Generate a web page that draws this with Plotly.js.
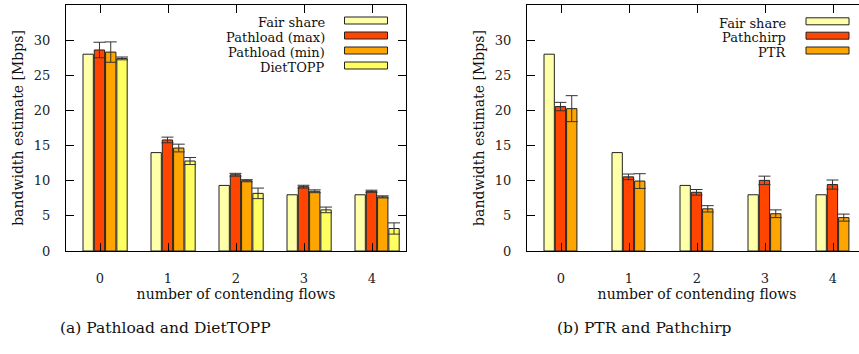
<!DOCTYPE html>
<html>
<head>
<meta charset="utf-8">
<script src="https://cdn.plot.ly/plotly-3.0.1.min.js"></script>
<style>
html,body{margin:0;padding:0;overflow:hidden;background:#fff;width:859px;height:354px;}
#chart{width:875px;height:354px;}
</style>
</head>
<body>
<div id="chart"></div>
<script>
// ---- data ----
const categories = [0, 1, 2, 3, 4];
const tickLabels = ['0', '1', '2', '3', '4'];

// (a) Pathload and DietTOPP
const seriesNamesA = ['Fair share', 'Pathload (max)', 'Pathload (min)', 'DietTOPP'];
const fairShareA = [28, 14, 9.33, 8, 8];
const pathloadMax = [28.6, 15.8, 10.85, 9.15, 8.5];
const pathloadMaxErr = [1.1, 0.4, 0.2, 0.2, 0.15];
const pathloadMin = [28.3, 14.65, 10.0, 8.5, 7.7];
const pathloadMinErr = [1.45, 0.55, 0.15, 0.2, 0.15];
const dietTopp = [27.4, 12.8, 8.2, 5.85, 3.2];
const dietToppErr = [0.2, 0.5, 0.75, 0.4, 0.8];

// (b) PTR and Pathchirp
const seriesNamesB = ['Fair share', 'Pathchirp', 'PTR'];
const fairShareB = [28, 14, 9.33, 8, 8];
const pathchirp = [20.55, 10.55, 8.35, 10.05, 9.45];
const pathchirpErr = [0.6, 0.4, 0.4, 0.6, 0.65];
const ptr = [20.25, 9.95, 6.0, 5.3, 4.75];
const ptrErr = [1.85, 1.05, 0.45, 0.55, 0.5];

const yTickVals = [0, 5, 10, 15, 20, 25, 30, 35];

const captions = ['(a) Pathload and DietTOPP', '(b) PTR and Pathchirp'];
const xTitle = 'number of contending flows';
const yTitle = 'bandwidth estimate [Mbps]';

// ---- styles ----
const colFair = '#ffffaa';
const colRed = '#ff4500';
const colOrange = '#ffa500';
const colYellow = '#ffff60';
const FONT = 'DejaVu Serif';
const W = 875, H = 354;
const px = v => v / W;
const py = v => 1 - v / H;

const barW = 0.152, pitch = 0.166, start = -0.25;

function barTrace(vals, errs, color, k, xa, ya) {
  const t = {
    type: 'bar', x: categories, y: vals,
    xaxis: xa, yaxis: ya,
    width: barW, offset: start + k * pitch,
    marker: {color: color, line: {color: '#222', width: 1}},
    showlegend: false, hoverinfo: 'y'
  };
  if (errs) {
    t.error_y = {type: 'data', array: errs, visible: true, color: '#333', thickness: 1, width: 6};
  }
  return t;
}

const data = [
  barTrace(fairShareA, null, colFair, 0, 'x', 'y'),
  barTrace(pathloadMax, pathloadMaxErr, colRed, 1, 'x', 'y'),
  barTrace(pathloadMin, pathloadMinErr, colOrange, 2, 'x', 'y'),
  barTrace(dietTopp, dietToppErr, colYellow, 3, 'x', 'y'),
  barTrace(fairShareB, null, colFair, 0, 'x2', 'y2'),
  barTrace(pathchirp, pathchirpErr, colRed, 1, 'x2', 'y2'),
  barTrace(ptr, ptrErr, colOrange, 2, 'x2', 'y2')
];

const yDomain = [py(251), py(5)];

function xAxis(domain, anchor) {
  return {
    domain: domain, anchor: anchor, range: [-0.5, 4.5],
    tickmode: 'array', tickvals: categories, ticktext: tickLabels,
    ticks: 'inside', ticklen: 8, tickcolor: '#000', tickwidth: 1,
    mirror: 'ticks', showline: true, linecolor: '#000', linewidth: 1,
    showgrid: false, zeroline: false, automargin: false,
    ticklabelstandoff: 15,
    tickfont: {family: FONT, size: 13, color: '#222'},
    title: {text: xTitle, font: {family: FONT, size: 14, color: '#111'}, standoff: 3}
  };
}
function yAxis(domain, anchor) {
  return {
    domain: domain, anchor: anchor, range: [0, 35],
    tickmode: 'array', tickvals: yTickVals,
    ticks: 'inside', ticklen: 8, tickcolor: '#000', tickwidth: 1,
    mirror: 'ticks', showline: true, linecolor: '#000', linewidth: 1,
    showgrid: false, zeroline: false, automargin: false,
    ticklabelstandoff: 12,
    tickfont: {family: FONT, size: 13, color: '#222'},
    title: {text: yTitle, font: {family: FONT, size: 14, color: '#111'}, standoff: 6}
  };
}

const shapes = [];
const annotations = [];
function legend(names, colors, swX0, swX1, textRight, yCenters) {
  names.forEach((n, i) => {
    const yc = yCenters[i];
    shapes.push({type: 'rect', xref: 'paper', yref: 'paper',
      x0: px(swX0), x1: px(swX1), y0: py(yc + 3.5), y1: py(yc - 3.5),
      fillcolor: colors[i], line: {color: '#222', width: 1}});
    annotations.push({xref: 'paper', yref: 'paper', x: px(textRight), y: py(yc + 2),
      xanchor: 'right', yanchor: 'middle', showarrow: false, text: n,
      font: {family: FONT, size: 13, color: '#111'}, borderpad: 0});
  });
}
legend(seriesNamesA, [colFair, colRed, colOrange, colYellow], 344.5, 387.5, 326, [20.5, 35.5, 50.5, 65.5]);
legend(seriesNamesB, [colFair, colRed, colOrange], 806, 849, 787, [21.3, 35.7, 50.5]);

annotations.push({xref: 'paper', yref: 'paper', x: px(165), y: py(328), xanchor: 'center', yanchor: 'middle',
  showarrow: false, text: captions[0], font: {family: FONT, size: 15.5, color: '#111'}});
annotations.push({xref: 'paper', yref: 'paper', x: px(644), y: py(328), xanchor: 'center', yanchor: 'middle',
  showarrow: false, text: captions[1], font: {family: FONT, size: 15.5, color: '#111'}});

const layout = {
  width: W, height: H,
  margin: {l: 0, r: 0, t: 0, b: 0},
  paper_bgcolor: '#fff', plot_bgcolor: '#fff',
  barmode: 'overlay',
  showlegend: false,
  font: {family: FONT},
  xaxis: xAxis([px(66), px(406)], 'y'),
  yaxis: yAxis(yDomain, 'x'),
  xaxis2: xAxis([px(527), px(867)], 'y2'),
  yaxis2: yAxis(yDomain, 'x2'),
  shapes: shapes,
  annotations: annotations
};

Plotly.newPlot('chart', data, layout, {displayModeBar: false, staticPlot: true});
</script>
</body>
</html>
